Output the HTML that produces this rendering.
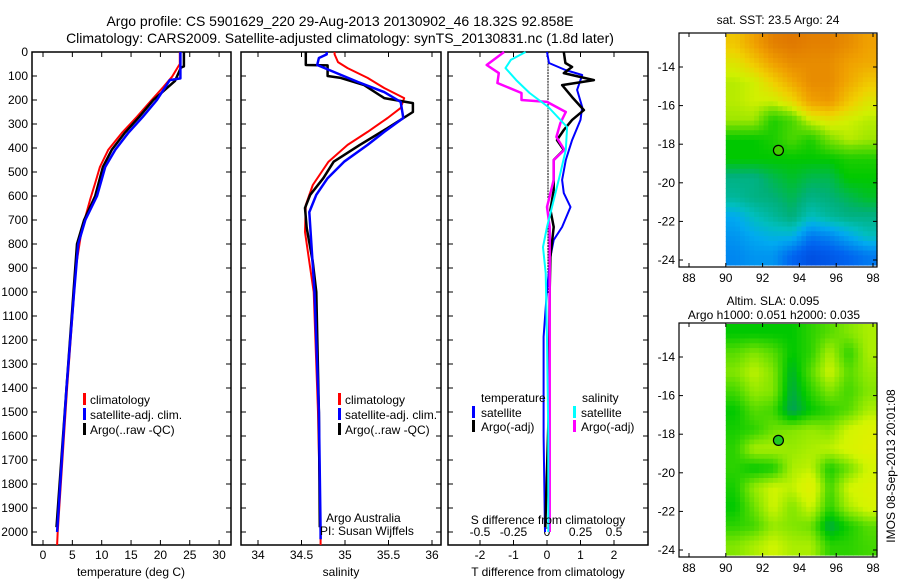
<!DOCTYPE html>
<html><head><meta charset="utf-8"><style>
html,body{margin:0;padding:0;background:#fff;}
svg{display:block;font-family:"Liberation Sans",sans-serif;}
</style></head><body>
<svg id="fig" width="900" height="580" viewBox="0 0 900 580" xmlns="http://www.w3.org/2000/svg">
<rect width="900" height="580" fill="#fff"/>
<text x="340" y="26" font-size="14" text-anchor="middle">Argo profile: CS 5901629_220 29-Aug-2013 20130902_46 18.32S 92.858E</text>
<text x="340" y="43" font-size="14" text-anchor="middle">Climatology: CARS2009. Satellite-adjusted climatology: synTS_20130831.nc (1.8d later)</text>
<text x="778" y="24" font-size="12" text-anchor="middle">sat. SST: 23.5 Argo: 24</text>
<text x="773" y="305" font-size="12" text-anchor="middle">Altim. SLA: 0.095</text>
<text x="774" y="319" font-size="12" text-anchor="middle">Argo h1000: 0.051 h2000: 0.035</text>
<text x="0" y="0" font-size="12" text-anchor="middle" transform="translate(895,466) rotate(-90)">IMOS 08-Sep-2013 20:01:08</text>
<g id="g"></g>
</svg>
<script>
// ---- data (depth m) ----
const tClimDepth=[0,50,62,103,146,200,270,338,408,479,546,617,688,754,896,1004,1400,2000,2054];
const tClimVal=[23.3,23.3,23,22,20.5,18.5,16,13.4,11.1,9.7,8.9,8,7.2,6.5,5.6,5.3,4.1,2.5,2.4];
const tSatDepth=[0,110,117,200,270,338,408,479,600,700,800,1000,1400,2000];
const tSatVal=[23.4,23.4,21.6,19.4,17,14.5,12.3,10.6,9.2,7.2,6,5.3,4,2.4];
const tArgoDepth=[0,60,65,120,200,270,338,408,479,600,700,800,1000,1400,1980];
const tArgoVal=[24,24,23.5,22.5,18.8,16.4,13.9,11.7,10.2,8.9,7,5.8,5.2,4,2.3];

const sClimDepth=[0,10,42,67,108,150,192,233,275,333,387,457,554,637,750,1000,1500,2000,2054];
const sClimVal=[34.88,34.88,34.92,35.03,35.26,35.45,35.68,35.64,35.49,35.26,35.03,34.81,34.63,34.55,34.54,34.64,34.69,34.72,34.72];
const sSatDepth=[0,10,25,54,83,125,167,208,275,333,387,457,526,595,667,1000,1500,2000,2030];
const sSatVal=[34.79,34.79,34.7,34.68,34.87,35.15,35.45,35.64,35.67,35.45,35.26,34.99,34.8,34.67,34.59,34.65,34.7,34.72,34.72];
const sArgoDepth=[0,54,56,100,108,138,192,213,250,317,387,457,526,595,650,733,875,1000,1500,1980];
const sArgoVal=[34.55,34.55,34.8,34.8,34.95,35.22,35.45,35.78,35.78,35.49,35.17,34.87,34.75,34.6,34.54,34.56,34.63,34.67,34.7,34.71];

const dTSatDepth=[0,46,75,96,158,229,283,367,450,533,588,646,729,783,854,992,1187,1600,2000];
const dTSatVal=[0,0.06,0.55,1.05,0.9,1.05,1.0,0.75,0.56,0.45,0.5,0.7,0.45,0.2,0.1,0,-0.1,-0.1,-0.06];
const dTArgoDepth=[0,46,62,88,117,138,188,242,283,325,367,408,450,575,658,729,854,992,1500,1980];
const dTArgoVal=[0.5,0.55,0.75,0.5,1.4,0.45,0.75,1.1,0.75,0.5,0.3,0.5,0.2,0.2,0.1,0.2,0.1,0.08,0.05,-0.05];
const dSArgoDepth=[0,54,88,129,171,200,208,250,296,354,408,450,533,646,729,1000,1500,2000];
const dSArgoVal=[-0.32,-0.45,-0.36,-0.37,-0.19,-0.19,0,0.14,0.1,0.07,0.13,0.05,0.05,0,0.02,0.02,0.02,0.02];
const dSSatDepth=[0,33,67,117,171,229,313,408,504,617,729,813,921,1200,1600,2000];
const dSSatVal=[-0.16,-0.27,-0.31,-0.23,-0.13,0.01,0.15,0.14,0.1,0.05,0,-0.03,-0.01,0,0.01,0.01];

const tTicks=[0,5,10,15,20,25,30];
const sTicks=[34,34.5,35,35.5,36];
const dTTicks=[-2,-1,0,1,2];
const dSTicks=[-0.5,-0.25,0,0.25,0.5];
const dSTickLabels=["-0.5","-0.25","0","0.25","0.5"];
const depthTicks=[0,100,200,300,400,500,600,700,800,900,1000,1100,1200,1300,1400,1500,1600,1700,1800,1900,2000];
const lonTicks=[88,90,92,94,96,98];
const latTicks=[-14,-16,-18,-20,-22,-24];
const argoLon=92.86, argoLat=-18.32;

const sstGrid=[
[0.72,0.8,0.88,0.9,0.88,0.88,0.85,0.8],
[0.65,0.72,0.8,0.85,0.85,0.85,0.8,0.78],
[0.6,0.62,0.7,0.78,0.85,0.85,0.78,0.72],
[0.6,0.62,0.62,0.68,0.8,0.82,0.72,0.65],
[0.58,0.58,0.45,0.5,0.62,0.65,0.62,0.6],
[0.42,0.42,0.45,0.5,0.45,0.55,0.6,0.58],
[0.42,0.42,0.42,0.42,0.42,0.42,0.45,0.45],
[0.35,0.35,0.38,0.4,0.38,0.38,0.42,0.42],
[0.33,0.35,0.36,0.38,0.35,0.36,0.38,0.4],
[0.25,0.3,0.33,0.36,0.3,0.33,0.35,0.35],
[0.22,0.25,0.27,0.27,0.18,0.2,0.25,0.3],
[0.2,0.22,0.22,0.15,0.1,0.12,0.15,0.18]];
const slaGrid=[
[0.2,0.2,0.2,0.2,0.3,0.4,0.5,0.6],
[0.4,0.5,0.4,0.2,0.3,0.6,0.3,0.6],
[0.5,0.65,0.5,0.1,0.4,0.7,0.4,0.55],
[0.35,0.55,0.5,0.05,0.3,0.5,0.35,0.5],
[0.2,0.4,0.35,0.0,0.2,0.3,0.4,0.6],
[0.25,0.3,0.45,0.5,0.55,0.5,0.7,0.8],
[0.3,0.6,0.6,0.55,0.6,0.65,0.75,0.85],
[0.3,0.2,0.25,0.6,0.65,0.25,0.45,0.7],
[0.25,0.55,0.7,0.65,0.85,0.35,0.7,0.8],
[0.2,0.45,0.7,0.5,0.7,0.3,0.6,0.75],
[0.3,0.35,0.55,0.5,0.45,0.05,0.25,0.4],
[0.5,0.6,0.7,0.6,0.6,0.3,0.3,0.35]];

const NS="http://www.w3.org/2000/svg";
const G=document.getElementById('g');
function mk(tag,a,parent){const e=document.createElementNS(NS,tag);for(const k in a)e.setAttribute(k,a[k]);(parent||G).appendChild(e);return e;}

const yD=d=>52+d*0.24;
const xT=v=>43+v*5.87;
const xS=v=>258+(v-34)*87;
const xDT=v=>547+v*33.5;
const xDS=v=>547+v*134;

function frame(x0,x1,name){
  const r=mk('rect',{x:x0,y:52,width:x1-x0,height:493,fill:'none',stroke:'#000','stroke-width':1.5});
  
  
  depthTicks.forEach(d=>{
    const t1=mk('line',{x1:x0,x2:x0+5,y1:yD(d),y2:yD(d),stroke:'#000'});
    
    
    const t2=mk('line',{x1:x1,x2:x1-5,y1:yD(d),y2:yD(d),stroke:'#000'});
    
    
  });
}
function xticks(vals,fx,labels,name,ly,topFx,topVals){
  vals.forEach((v,i)=>{
    const a=mk('line',{x1:fx(v),x2:fx(v),y1:545,y2:540,stroke:'#000'});
    
    
    const t=mk('text',{x:fx(v),y:ly||559,'font-size':12,'text-anchor':'middle'});
    t.textContent=labels?labels[i]:String(v);
    
    
  });
  const tf=topFx||fx, tv=topVals||vals;
  tv.forEach(v=>{
    const b=mk('line',{x1:tf(v),x2:tf(v),y1:52,y2:57,stroke:'#000'});
    
    
  });
}
function line(ds,vs,fx,color,w,name){
  const pts=ds.map((d,i)=>fx(vs[i]).toFixed(1)+','+yD(d).toFixed(1)).join(' ');
  const p=mk('polyline',{points:pts,fill:'none',stroke:color,'stroke-width':w,'stroke-linejoin':'round'});
  
  
}
function label(x,y,txt,name,anchor,size){
  const t=mk('text',{x:x,y:y,'font-size':size||12,'text-anchor':anchor||'start'});
  t.textContent=txt;
  
  
}
function legBar(x,y,color,name){
  const r=mk('rect',{x:x,y:y-11,width:3,height:12,fill:color});
  
  
}

// Panel 1
frame(32,231,'temperature-panel');
depthTicks.forEach(d=>label(28,yD(d)+4,String(d),'depth-tick-label','end'));
xticks(tTicks,xT,null,'temperature-tick-label');
line(tClimDepth,tClimVal,xT,'#f00',2,'temperature-climatology-line');
line(tArgoDepth,tArgoVal,xT,'#000',2.5,'temperature-argo-line');
line(tSatDepth,tSatVal,xT,'#00f',2.5,'temperature-satellite-line');
label(131,576,'temperature (deg C)','x-axis-title-temperature','middle');
legBar(83,404,'#f00','legend-swatch-climatology');label(90,404,'climatology','legend-climatology');
legBar(83,419,'#00f','legend-swatch-satellite');label(90,419,'satellite-adj. clim.','legend-satellite');
legBar(83,434,'#000','legend-swatch-argo');label(90,434,'Argo(..raw -QC)','legend-argo');

// Panel 2
frame(241,441,'salinity-panel');
xticks(sTicks,xS,null,'salinity-tick-label');
line(sClimDepth,sClimVal,xS,'#f00',2,'salinity-climatology-line');
line(sArgoDepth,sArgoVal,xS,'#000',2.5,'salinity-argo-line');
line(sSatDepth,sSatVal,xS,'#00f',2.5,'salinity-satellite-line');
label(341,576,'salinity','x-axis-title-salinity','middle');
legBar(338,404,'#f00','legend-swatch-climatology-2');label(345,404,'climatology','legend-climatology-2');
legBar(338,419,'#00f','legend-swatch-satellite-2');label(345,419,'satellite-adj. clim.','legend-satellite-2');
legBar(338,434,'#000','legend-swatch-argo-2');label(345,434,'Argo(..raw -QC)','legend-argo-2');
label(326,522,'Argo Australia','credit-argo-australia');
label(320,535,'PI: Susan Wijffels','credit-pi');

// Panel 3
frame(448,648,'difference-panel');
for(let d=0;d<=1000;d+=12){const z=mk('line',{x1:548,x2:548,y1:yD(d),y2:yD(d)+2,stroke:'#000','stroke-width':1});}
xticks(dTTicks,xDT,null,'t-diff-tick-label',559,xDS,dSTicks);
dSTicks.forEach((v,i)=>label(xDS(v),536,dSTickLabels[i],'s-diff-tick-label','middle'));
line(dTSatDepth,dTSatVal,xDT,'#00f',2,'t-diff-satellite-line');
line(dTArgoDepth,dTArgoVal,xDT,'#000',2.5,'t-diff-argo-line');
line(dSArgoDepth,dSArgoVal,xDS,'#f0f',2.5,'s-diff-argo-line');
line(dSSatDepth,dSSatVal,xDS,'#0ff',2,'s-diff-satellite-line');
label(548,524,'S difference from climatology','s-diff-axis-title','middle');
label(548,576,'T difference from climatology','t-diff-axis-title','middle');
label(481,402,'temperature','legend-temperature-header');
legBar(472,417,'#00f','legend-swatch-t-sat');label(481,417,'satellite','legend-t-satellite');
legBar(472,431,'#000','legend-swatch-t-argo');label(481,431,'Argo(-adj)','legend-t-argo');
label(582,402,'salinity','legend-salinity-header');
legBar(573,417,'#0ff','legend-swatch-s-sat');label(581,417,'satellite','legend-s-satellite');
legBar(573,431,'#f0f','legend-swatch-s-argo');label(581,431,'Argo(-adj)','legend-s-argo');

// Maps
function lerp(a,b,t){return a+(b-a)*t;}
function cmap(stops,v){
  for(let i=1;i<stops.length;i++){if(v<=stops[i][0]){const s=stops[i-1],e=stops[i],t=(v-s[0])/(e[0]-s[0]);
    return 'rgb('+[1,2,3].map(k=>Math.round(lerp(s[k],e[k],t))).join(',')+')';}}
  const l=stops[stops.length-1];return 'rgb('+l[1]+','+l[2]+','+l[3]+')';
}
const sstStops=[[0,0,40,200],[0.15,0,100,240],[0.25,0,170,240],[0.3,0,190,190],[0.36,0,176,120],[0.42,0,200,0],[0.55,120,224,0],[0.62,208,240,0],[0.7,240,208,0],[0.8,240,160,0],[0.9,224,120,0],[1,200,90,0]];
const slaStops=[[0,0,160,90],[0.2,0,200,0],[0.5,130,230,0],[0.7,210,245,0],[1,240,235,0]];

function map(y0,ylat,grid,stops,name,sub,markerFill){
  const fx=lon=>689+(lon-88)*18.4;
  const fy=lat=>ylat+(-14-lat)*19.3;
  const top=y0, bot=y0+234;
  const g=mk('g',{});
  
  
  const R=grid.length,C=grid[0].length,x0=fx(90),x1=877,yT=top+1,yB=bot-2;
  const cw=(x1-x0)/(C*sub),ch=(yB-yT)/(R*sub);
  for(let r=0;r<R*sub;r++)for(let c=0;c<C*sub;c++){
    const fr=Math.min(Math.max((r+0.5)/sub-0.5,0),R-1),fc=Math.min(Math.max((c+0.5)/sub-0.5,0),C-1);
    const r0=Math.floor(fr),c0=Math.floor(fc),r1=Math.min(r0+1,R-1),c1=Math.min(c0+1,C-1),tr=fr-r0,tc=fc-c0;
    const v=lerp(lerp(grid[r0][c0],grid[r0][c1],tc),lerp(grid[r1][c0],grid[r1][c1],tc),tr);
    const cell=mk('rect',{x:(x0+c*cw).toFixed(2),y:(yT+r*ch).toFixed(2),width:(cw+0.6).toFixed(2),height:(ch+0.6).toFixed(2),fill:cmap(stops,v)},g);
    
    
  }
  const fr=mk('rect',{x:679,y:top,width:198,height:bot-top,fill:'none',stroke:'#000','stroke-width':1.2});
  
  
  lonTicks.forEach(l=>{
    const a=mk('line',{x1:fx(l),x2:fx(l),y1:bot,y2:bot-4,stroke:'#000'});
    
    
    const b=mk('line',{x1:fx(l),x2:fx(l),y1:top,y2:top+4,stroke:'#000'});
    
    
    label(fx(l),bot+15,String(l),'lon-tick-label','middle');
  });
  latTicks.forEach(l=>{
    const a=mk('line',{x1:679,x2:683,y1:fy(l),y2:fy(l),stroke:'#000'});
    
    
    const b=mk('line',{x1:877,x2:873,y1:fy(l),y2:fy(l),stroke:'#000'});
    
    
    label(675,fy(l)+4,String(l),'lat-tick-label','end');
  });
  const m=mk('circle',{cx:fx(argoLon),cy:fy(argoLat),r:5,fill:markerFill,stroke:'#000','stroke-width':1.2});
  
  
}
map(33,67,sstGrid,sstStops,'sst-map',4,'#40cc00');
map(323,357,slaGrid,slaStops,'sla-map',4,'#20c820');
</script>
</body></html>
